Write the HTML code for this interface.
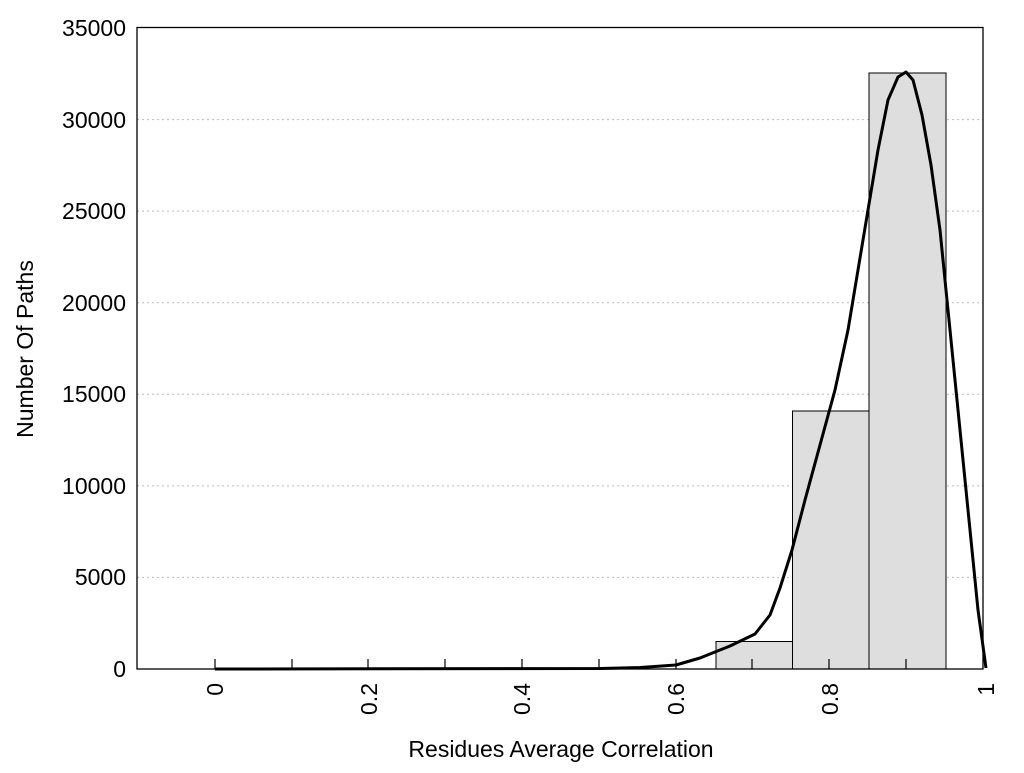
<!DOCTYPE html>
<html><head><meta charset="utf-8"><style>body{margin:0;background:#fff}</style></head><body>
<svg width="1024" height="768" xmlns="http://www.w3.org/2000/svg" font-family="Liberation Sans, sans-serif">
<rect width="1024" height="768" fill="#fff"/>
<g stroke="#bbb" stroke-dasharray="2,3" stroke-width="1">
<line x1="137" x2="983" y1="577.4" y2="577.4"/><line x1="137" x2="983" y1="485.9" y2="485.9"/>
<line x1="137" x2="983" y1="394.3" y2="394.3"/><line x1="137" x2="983" y1="302.7" y2="302.7"/>
<line x1="137" x2="983" y1="211.1" y2="211.1"/><line x1="137" x2="983" y1="119.6" y2="119.6"/>
</g>
<g fill="#dedede" stroke="#000" stroke-width="1">
<rect x="716" y="641.5" width="76.5" height="27.5"/>
<rect x="792.5" y="411" width="76.5" height="258"/>
<rect x="869" y="73" width="77" height="596"/>
</g>
<g stroke="#000" stroke-width="1.2">
<line x1="215" x2="215" y1="659" y2="669"/><line x1="292" x2="292" y1="659" y2="669"/>
<line x1="368" x2="368" y1="659" y2="669"/><line x1="445" x2="445" y1="659" y2="669"/>
<line x1="522" x2="522" y1="659" y2="669"/><line x1="599" x2="599" y1="659" y2="669"/>
<line x1="676" x2="676" y1="659" y2="669"/><line x1="752" x2="752" y1="659" y2="669"/>
<line x1="829" x2="829" y1="659" y2="669"/><line x1="906" x2="906" y1="659" y2="669"/>
</g>
<rect x="137" y="27.5" width="846" height="641.5" fill="none" stroke="#000" stroke-width="1.3"/>
<polyline fill="none" stroke="#000" stroke-width="3" stroke-linejoin="round" points="215,669 600,668.5 640,667.5 676,665 700,658 730,646 755,634 770,615 780,588 792,550 805,500 820,445 835,390 848,330 858,270 868,210 878,150 888,100 898,77 906,72 913,80 922,115 931,165 940,230 948,310 958,410 968,510 978,610 986,668"/>
<g font-size="23" fill="#000" text-anchor="end">
<text x="126" y="677">0</text><text x="126" y="585">5000</text><text x="126" y="494">10000</text>
<text x="126" y="402">15000</text><text x="126" y="311">20000</text><text x="126" y="219">25000</text>
<text x="126" y="128">30000</text><text x="126" y="36">35000</text>
</g>
<g font-size="23" fill="#000" text-anchor="end">
<text transform="translate(223,683) rotate(-90)">0</text>
<text transform="translate(377,683) rotate(-90)">0.2</text>
<text transform="translate(530,683) rotate(-90)">0.4</text>
<text transform="translate(684,683) rotate(-90)">0.6</text>
<text transform="translate(838,683) rotate(-90)">0.8</text>
<text transform="translate(994,683) rotate(-90)">1</text>
</g>
<text x="561" y="757" font-size="23" text-anchor="middle">Residues Average Correlation</text>
<text transform="translate(33,349) rotate(-90)" font-size="23" text-anchor="middle">Number Of Paths</text>
</svg>
</body></html>
